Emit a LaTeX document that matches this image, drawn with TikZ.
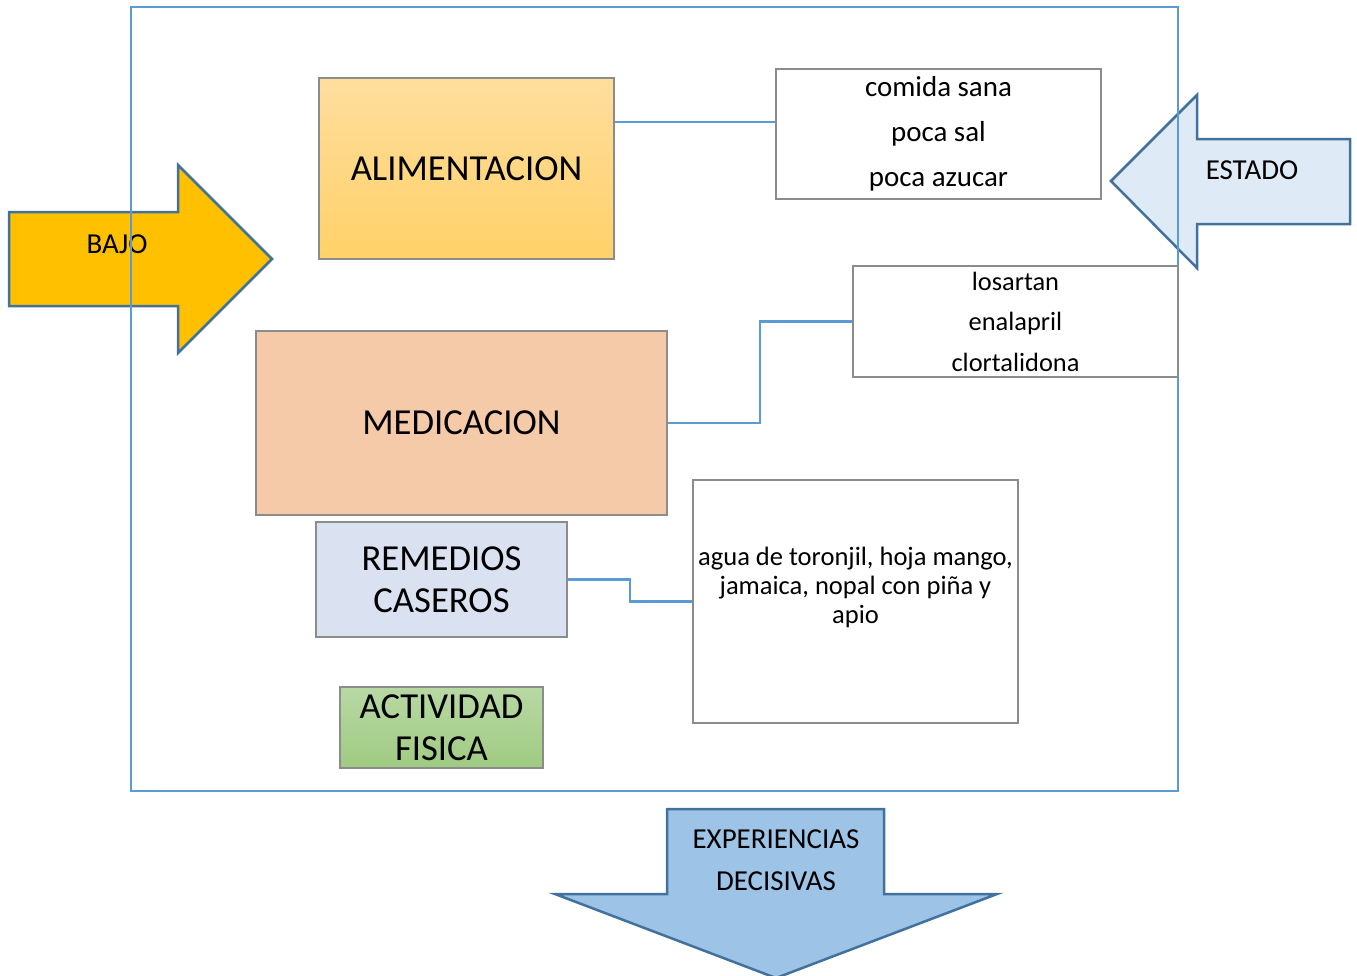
\documentclass[tikz,border=0pt]{standalone}
\usepackage{fontspec}
\setmainfont{Carlito}
\usepackage{tikz}
\usetikzlibrary{calc,
                positioning}

\definecolor{marco}{HTML}{5B9BD5}
\definecolor{borde}{HTML}{41719C}
\definecolor{bajofondo}{HTML}{FFC000}
\definecolor{estadofondo}{HTML}{DEEBF7}
\definecolor{expfondo}{HTML}{9DC3E6}
\definecolor{alimarriba}{HTML}{FFDE9E}
\definecolor{alimabajo}{HTML}{FFD168}
\definecolor{medfondo}{HTML}{F5CAA9}
\definecolor{remfondo}{HTML}{DAE1F1}
\definecolor{actarriba}{HTML}{B8D8A4}
\definecolor{actabajo}{HTML}{9FCB82}

\newcommand{\px}{0.75pt}
\newcommand{\letragrande}{\fontsize{27.5}{31.5}\selectfont}
\newcommand{\letrachica}{\fontsize{21.7}{33.75}\selectfont}
\newcommand{\letrafarma}{\fontsize{19.8}{30.4}\selectfont}
\newcommand{\letraagua}{\fontsize{19.9}{21.75}\selectfont}
\newcommand{\letraflecha}{\fontsize{21.7}{31.5}\selectfont}

\begin{document}
\begin{tikzpicture}[
x=\px, y=-\px,
every node/.style = {inner sep=0pt, align=center},
caja/.style 2 args = {draw=black!45, line width=1.5*\px,
                      minimum width=#1*\px, minimum height=#2*\px},
flecha/.style = {draw=borde, line width=2.5*\px, line join=miter},
enlace/.style = {draw=marco, line width=2.5*\px}
                        ]
    \useasboundingbox (0,0) rectangle (1357,975);

    \draw[flecha, fill=bajofondo] (9,212) -- (178,212) -- (178,165) -- (272,259)
        -- (178,353) -- (178,306) -- (9,306) -- cycle;
    \node[font=\letraflecha] (bajo) at (117,244) {BAJO};

    \draw[flecha, fill=estadofondo] (1350,139) -- (1197,139) -- (1197,95) -- (1111,181)
        -- (1197,268) -- (1197,224) -- (1350,224) -- cycle;
    \node[font=\letraflecha] (estado) at (1252,170) {ESTADO};

    \draw[flecha, fill=expfondo] (667,809) -- (884,809) -- (884,894) -- (997,894)
        -- (776,978) -- (555,894) -- (667,894) -- cycle;
    \node[font=\letraflecha] (experiencias) at (776,860) {EXPERIENCIAS\\DECISIVAS};

    \draw[marco, line width=2*\px] (131,7) rectangle (1178,791);

    \node[caja={295}{181}, top color=alimarriba, bottom color=alimabajo,
          font=\letragrande] (alimentacion) at (466.5,168.5) {ALIMENTACION};
    \node[caja={325}{130}, fill=white, font=\letrachica]
          (comida) at (938.5,134) {comida sana\\poca sal\\poca azucar};
    \node[caja={411}{184}, fill=medfondo, font=\letragrande]
          (medicacion) at (461.5,423) {MEDICACION};
    \node[caja={325}{111}, fill=white, font=\letrafarma]
          (farmacos) at (1015.5,321.5) {losartan\\enalapril\\clortalidona};
    \node[caja={251}{115}, fill=remfondo, font=\letragrande]
          (remedios) at (441.5,579.5) {REMEDIOS\\CASEROS};
    \node[caja={325}{243}, fill=white] (agua) at (855.5,601.5) {};
    \node[font=\letraagua] (aguatexto) at ($(agua.center)+(0,-14.5)$)
          {agua de toronjil, hoja mango,\\jamaica, nopal con piña y\\apio};
    \node[caja={203}{81}, top color=actarriba, bottom color=actabajo,
          font=\letragrande] (actividad) at (441.5,727.5) {ACTIVIDAD\\FISICA};

    \coordinate (m1) at ($(medicacion.east)!0.5!(farmacos.west)$);
    \coordinate (m2) at ($(remedios.east)!0.5!(agua.west)$);

    \draw[enlace] (alimentacion.east |- 0,122) -- (comida.west |- 0,122);
    \draw[enlace] (medicacion.east) -| (m1) |- (farmacos.west);
    \draw[enlace] (remedios.east) -| (m2) |- (agua.west);
\end{tikzpicture}
\end{document}
